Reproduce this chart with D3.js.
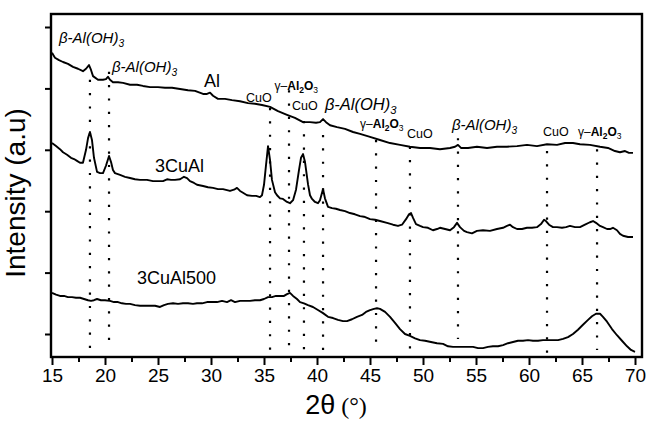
<!DOCTYPE html>
<html><head><meta charset="utf-8">
<script src="https://cdn.jsdelivr.net/npm/d3@7"></script>
<style>body{margin:0;background:#fff}svg{display:block}</style>
</head><body><svg id="c" width="647" height="421"></svg>
<script>
// ---- data (2θ in degrees, intensity in a.u.) ----
const xMajorTicks = [15,20,25,30,35,40,45,50,55,60,65,70];
const xMinorTicks = [17.5,22.5,27.5,32.5,37.5,42.5,47.5,52.5,57.5,62.5,67.5];
const yTicks = [0,100,200,300,400,500];

const alData = [[15.00,458],[15.28,450],[15.66,446],[16.04,443],[16.51,440],[16.98,435],[17.45,432],[17.92,428],[18.21,432],[18.49,438],[18.68,430],[18.87,420],[19.34,414],[19.81,414],[20.09,415],[20.28,419],[20.47,414],[20.75,410],[21.23,410],[21.70,409],[22.36,406],[23.02,406],[23.58,404],[24.25,402],[25.00,402],[25.66,401],[26.32,401],[27.08,399],[27.83,397],[28.49,396],[29.25,391],[29.62,391],[29.91,393],[30.19,388],[30.66,383],[31.32,383],[31.98,381],[32.74,379],[33.49,376],[34.15,375],[34.81,373],[35.57,370],[36.32,363],[37.17,357],[37.92,352],[38.68,345],[39.34,345],[39.91,344],[40.28,345],[40.57,350],[40.85,345],[41.23,340],[41.89,337],[42.64,334],[43.40,329],[44.06,326],[45.00,321],[45.94,316],[46.89,311],[47.83,308],[48.77,305],[49.72,303],[50.66,303],[51.60,301],[52.55,303],[53.02,305],[53.30,308],[53.58,303],[54.25,303],[55.09,305],[56.04,303],[56.98,305],[57.92,305],[58.87,306],[59.81,308],[60.75,306],[61.70,309],[62.64,308],[63.40,311],[64.15,311],[64.81,309],[65.75,308],[66.70,305],[67.45,303],[68.11,298],[68.58,296],[69.06,298],[69.43,295],[69.81,295]];

const cuAlData = [[15.00,311],[15.38,306],[15.75,301],[16.04,296],[16.42,292],[16.79,287],[17.08,285],[17.36,282],[17.64,279],[17.92,279],[18.21,300],[18.40,319],[18.58,329],[18.77,316],[18.96,287],[19.25,264],[19.53,262],[19.81,262],[20.09,274],[20.38,290],[20.57,280],[20.75,267],[20.94,262],[21.42,259],[21.89,256],[22.36,254],[22.83,252],[23.30,251],[23.96,251],[24.53,249],[25.00,249],[25.47,249],[25.85,252],[26.23,251],[26.60,251],[27.08,252],[27.45,256],[27.74,254],[28.02,249],[28.40,246],[28.68,243],[29.25,241],[29.72,239],[30.19,238],[30.66,236],[31.13,236],[31.79,233],[32.17,235],[32.45,238],[32.74,233],[33.02,230],[33.40,226],[33.87,225],[34.25,225],[34.62,223],[34.81,226],[35.00,243],[35.19,275],[35.38,306],[35.57,283],[35.75,251],[36.04,231],[36.23,226],[36.51,221],[36.79,220],[37.17,215],[37.45,213],[37.74,218],[38.02,235],[38.30,267],[38.49,287],[38.68,293],[38.87,280],[39.15,244],[39.34,226],[39.53,220],[39.81,215],[40.09,213],[40.28,218],[40.57,236],[40.75,221],[41.04,207],[41.42,205],[41.79,204],[42.17,202],[42.64,200],[43.11,197],[43.58,195],[44.06,192],[44.43,191],[44.72,189],[45.00,187],[45.47,186],[45.94,184],[46.60,181],[47.17,178],[47.64,176],[48.02,178],[48.40,187],[48.68,195],[48.87,197],[49.06,189],[49.34,179],[49.72,176],[50.00,174],[50.47,173],[50.94,169],[51.32,171],[51.60,173],[52.08,171],[52.55,169],[52.92,174],[53.21,181],[53.49,174],[53.87,168],[54.15,166],[54.62,164],[55.09,168],[55.66,169],[56.32,168],[56.98,171],[57.55,173],[57.92,176],[58.21,178],[58.49,174],[58.87,171],[59.34,171],[59.81,173],[60.28,173],[60.75,174],[61.13,179],[61.42,186],[61.60,184],[61.89,178],[62.26,174],[62.64,174],[63.11,173],[63.49,174],[63.87,176],[64.34,174],[64.81,174],[65.28,178],[65.75,182],[66.04,184],[66.32,181],[66.70,176],[66.98,174],[67.36,171],[67.64,171],[67.92,173],[68.30,169],[68.58,163],[68.87,160],[69.34,158],[69.81,158]];

const cuAl500Data = [[15.00,67],[15.38,64],[15.75,62],[16.13,62],[16.51,60],[16.89,60],[17.26,59],[17.64,59],[18.02,57],[18.40,55],[18.68,54],[18.96,55],[19.25,57],[19.62,55],[20.00,55],[20.47,54],[20.85,52],[21.23,52],[21.60,50],[21.98,49],[22.36,49],[22.83,47],[23.30,46],[23.77,46],[24.25,46],[24.72,46],[25.19,44],[25.57,47],[25.94,49],[26.42,50],[26.89,49],[27.36,50],[27.83,50],[28.30,49],[28.68,50],[29.15,50],[29.62,52],[30.09,52],[30.57,52],[31.04,54],[31.51,52],[31.89,55],[32.26,52],[32.74,54],[33.21,54],[33.68,54],[34.15,55],[34.62,55],[35.00,57],[35.38,60],[35.75,60],[36.13,62],[36.51,62],[36.89,62],[37.17,65],[37.45,67],[37.74,62],[38.11,57],[38.40,52],[38.77,50],[39.15,47],[39.62,44],[40.09,39],[40.57,34],[41.04,28],[41.51,26],[41.98,23],[42.45,21],[42.83,21],[43.30,24],[43.77,28],[44.25,31],[44.62,36],[45.00,39],[45.38,41],[45.66,42],[45.94,41],[46.42,36],[46.89,28],[47.36,18],[47.83,8],[48.30,0],[48.77,-3],[49.25,-7],[49.72,-10],[50.19,-11],[50.75,-13],[51.32,-15],[51.89,-16],[52.36,-20],[52.83,-21],[53.30,-21],[53.77,-21],[54.25,-21],[54.72,-21],[55.19,-23],[55.66,-23],[56.13,-21],[56.60,-20],[57.08,-20],[57.55,-18],[58.02,-15],[58.49,-13],[58.96,-11],[59.43,-11],[59.91,-10],[60.38,-11],[60.85,-11],[61.32,-10],[61.79,-10],[62.26,-10],[62.74,-10],[63.21,-8],[63.68,-5],[64.15,0],[64.62,7],[65.09,15],[65.57,23],[65.94,29],[66.32,33],[66.70,33],[66.98,28],[67.36,20],[67.83,8],[68.30,-2],[68.77,-11],[69.25,-20],[69.62,-26],[70.00,-29]];

// dotted reflection markers: [2θ, top intensity, bottom intensity]
const refLines = [[18.58,414,-23],[20.38,427,-11],[35.57,368,-28],[37.36,397,-21],[38.77,347,-28],[40.57,324,-31],[45.57,316,-20],[48.77,305,-28],[53.30,319,-8],[61.70,298,-31],[66.42,301,-26]];

// phase labels: [2θ, intensity] of text start/baseline
const betaLabels = [[15.66,474],[20.66,427],[40.75,365],[52.74,332]];
const gammaLabels = [[36.00,398],[44.06,336],[64.62,322]];
const cuoLabels = [[33.30,378],[37.64,365],[48.49,319],[61.32,322]];
const sampleNames = ["Al","3CuAl","3CuAl500"];
const sampleLabelPos = [[29.34,402],[24.72,264],[23.02,81]];

// ---- drawing ----
const svg = d3.select("#c");
const x = d3.scaleLinear().domain([15,70]).range([52,635]);
const y = d3.scaleLinear().domain([0,500]).range([334,27]);
const frame = {left:51, right:642, top:14, bottom:357};
const SANS = "'Liberation Sans', Arial, Helvetica, sans-serif";
const SERIF = "'Liberation Serif', 'Times New Roman', serif";

// dotted lines
svg.append("g").selectAll("line").data(refLines).join("line")
  .attr("x1", d => x(d[0])).attr("x2", d => x(d[0]))
  .attr("y1", d => y(d[1])).attr("y2", d => y(d[2]))
  .attr("stroke","#000").attr("stroke-width",2.2)
  .attr("stroke-dasharray","2.2,11.1");

// curves
const line = d3.line().x(d => x(d[0])).y(d => y(d[1]));
[alData, cuAlData, cuAl500Data].forEach(s => {
  svg.append("path").datum(s).attr("d", line)
    .attr("fill","none").attr("stroke","#000").attr("stroke-width",1.9)
    .attr("stroke-linejoin","round");
});

// frame
svg.append("rect").attr("x",frame.left).attr("y",frame.top)
  .attr("width",frame.right-frame.left).attr("height",frame.bottom-frame.top)
  .attr("fill","none").attr("stroke","#000").attr("stroke-width",2.4);

// x axis
const xAxis = d3.axisBottom(x).tickValues(xMajorTicks).tickSize(8).tickPadding(4).tickFormat(d3.format("d"));
const gx = svg.append("g").attr("transform",`translate(0,${frame.bottom})`).call(xAxis);
gx.select(".domain").remove();
gx.selectAll(".tick line").attr("stroke-width",2);
gx.selectAll(".tick text").attr("font-family",SANS).attr("font-size",19).attr("fill","#000");
const gxm = svg.append("g").attr("transform",`translate(0,${frame.bottom})`)
  .call(d3.axisBottom(x).tickValues(xMinorTicks).tickSize(5).tickFormat(""));
gxm.select(".domain").remove();
gxm.selectAll(".tick line").attr("stroke-width",2);

// y axis (ticks only)
const gy = svg.append("g").attr("transform",`translate(${frame.left},0)`)
  .call(d3.axisLeft(y).tickValues(yTicks).tickSize(6).tickFormat(""));
gy.select(".domain").remove();
gy.selectAll(".tick line").attr("stroke-width",2);

// axis titles
svg.append("text").attr("transform","translate(25,193) rotate(-90)")
  .attr("text-anchor","middle").attr("font-family",SANS).attr("font-size",28)
  .text("Intensity (a.u)");
const xt = svg.append("text").attr("x",336).attr("y",414).attr("text-anchor","middle");
xt.append("tspan").attr("font-family",SANS).attr("font-size",27).text("2θ");
xt.append("tspan").attr("font-family",SERIF).attr("font-size",24).text(" (°)");

// beta labels
betaLabels.forEach((p,i) => {
  const fs = i === 2 ? 16.5 : 15;
  const t = svg.append("text").attr("x",x(p[0])).attr("y",y(p[1]))
    .attr("font-family",SANS).attr("font-style","italic").attr("font-size",fs);
  t.append("tspan").text("β-Al(OH)");
  t.append("tspan").attr("font-size",fs*0.68).attr("dy",4).text("3");
});
// gamma labels
gammaLabels.forEach(p => {
  const t = svg.append("text").attr("x",x(p[0])).attr("y",y(p[1]))
    .attr("font-family",SANS).attr("font-size",12);
  t.append("tspan").text("γ–");
  t.append("tspan").attr("font-weight","bold").text("Al");
  t.append("tspan").attr("font-weight","bold").attr("font-size",8.5).attr("dy",3).text("2");
  t.append("tspan").attr("font-weight","bold").attr("dy",-3).text("O");
  t.append("tspan").attr("font-size",8.5).attr("dy",3).text("3");
});
// CuO labels
svg.append("g").selectAll("text").data(cuoLabels).join("text")
  .attr("x",d => x(d[0])).attr("y",d => y(d[1]))
  .attr("font-family",SANS).attr("font-size",12.5).text("CuO");
// sample names
svg.append("g").selectAll("text").data(sampleNames).join("text")
  .attr("x",(d,i) => x(sampleLabelPos[i][0])).attr("y",(d,i) => y(sampleLabelPos[i][1]))
  .attr("font-family",SANS).attr("font-size",18).text(d => d);
</script></body></html>
